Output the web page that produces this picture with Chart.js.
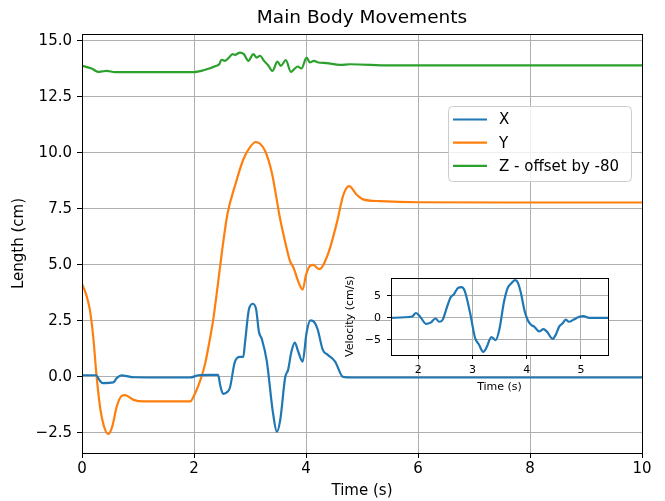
<!DOCTYPE html>
<html>
<head>
<meta charset="utf-8">
<script src="https://cdn.jsdelivr.net/npm/chart.js@4.4.1/dist/chart.umd.min.js"></script>
<style>
  html, body { margin: 0; padding: 0; background: #fff; }
  #wrap { position: relative; width: 665px; height: 501px; }
  #main { position: absolute; left: 0; top: 0; width: 665px; height: 501px; }
  #inset { position: absolute; left: 330px; top: 265px; width: 290px; height: 130px; }
</style>
</head>
<body>
<div id="wrap">
  <canvas id="main" width="665" height="501"></canvas>
  <canvas id="inset" width="290" height="130"></canvas>
</div>
<script>
// Main Body Movements – posição X/Y/Z + velocidade (inset)

// X (cm)
const tempoX = [0, 0.25, 0.32, 0.37, 0.56, 0.62, 0.71, 0.80, 0.92, 1.5, 1.93, 2.08, 2.30, 2.43, 2.47, 2.52, 2.58, 2.64, 2.73, 2.82, 2.88, 2.91, 2.98, 3.05, 3.11, 3.16, 3.21, 3.30, 3.41, 3.48, 3.54, 3.63, 3.68, 3.74, 3.80, 3.86, 3.94, 4.01, 4.08, 4.16, 4.21, 4.30, 4.39, 4.52, 4.66, 4.84, 6, 10];
const valoresX = [0.07, 0.07, -0.18, -0.28, -0.25, -0.06, 0.06, 0.03, -0.02, -0.03, -0.03, 0.07, 0.09, 0.09, -0.4, -0.76, -0.7, -0.5, 0.67, 0.89, 0.89, 1.5, 3.0, 3.26, 3.0, 2.0, 1.7, 0.7, -1.6, -2.45, -1.92, 0, 0.31, 1.13, 1.53, 1.13, 0.68, 1.97, 2.52, 2.4, 2.1, 1.2, 0.98, 0.68, 0.0, -0.03, -0.03, -0.03];

// Y (cm)
const tempoY = [0, 0.07, 0.14, 0.20, 0.26, 0.33, 0.41, 0.47, 0.54, 0.62, 0.71, 0.77, 0.92, 1.10, 1.50, 1.93, 2.02, 2.12, 2.20, 2.27, 2.34, 2.42, 2.50, 2.60, 2.73, 2.88, 3.00, 3.10, 3.18, 3.27, 3.39, 3.54, 3.63, 3.71, 3.78, 3.87, 3.94, 4.00, 4.07, 4.13, 4.20, 4.24, 4.40, 4.55, 4.67, 4.77, 4.90, 5.02, 5.32, 6, 8, 10];
const valoresY = [4.15, 3.7, 3.0, 1.8, 0.04, -1.48, -2.34, -2.55, -2.22, -1.33, -0.85, -0.82, -1.03, -1.10, -1.10, -1.10, -0.73, -0.1, 0.6, 1.5, 2.5, 4.0, 5.6, 7.3, 8.51, 9.70, 10.25, 10.48, 10.40, 10.08, 9.11, 7.02, 6.0, 5.2, 4.85, 4.2, 3.89, 4.55, 4.95, 5.0, 4.85, 4.81, 5.53, 6.87, 8.14, 8.51, 8.14, 7.92, 7.84, 7.79, 7.78, 7.78];

// Z - offset by -80 (cm)
const tempoZ = [0, 0.17, 0.29, 0.36, 0.44, 0.59, 1.0, 1.99, 2.17, 2.40, 2.45, 2.49, 2.55, 2.61, 2.69, 2.73, 2.82, 2.89, 2.97, 3.06, 3.12, 3.18, 3.25, 3.33, 3.40, 3.49, 3.55, 3.64, 3.73, 3.80, 3.85, 3.92, 4.01, 4.07, 4.14, 4.22, 4.37, 4.61, 4.79, 5.5, 10];
const valoresZ = [13.88, 13.76, 13.61, 13.63, 13.65, 13.60, 13.60, 13.60, 13.68, 13.88, 13.95, 14.15, 14.10, 14.21, 14.40, 14.37, 14.47, 14.40, 14.10, 14.40, 14.25, 14.33, 14.10, 13.88, 13.65, 14.07, 13.88, 14.13, 13.61, 13.76, 13.85, 13.76, 14.25, 14.03, 14.10, 14.03, 14.00, 13.92, 13.95, 13.9, 13.9];

// Velocidade (cm/s), só no inset
const tempoVel = [1.5, 1.89, 1.96, 2.04, 2.15, 2.23, 2.32, 2.39, 2.45, 2.53, 2.60, 2.66, 2.74, 2.80, 2.86, 2.96, 3.05, 3.12, 3.20, 3.26, 3.35, 3.43, 3.50, 3.58, 3.65, 3.71, 3.79, 3.84, 3.90, 3.96, 4.02, 4.08, 4.14, 4.23, 4.31, 4.37, 4.48, 4.54, 4.60, 4.66, 4.72, 4.78, 4.87, 4.96, 5.05, 5.15, 5.5];
const valoresVel = [0, 0.3, 1.1, 0.2, -1.4, -1.1, -0.15, -0.9, -0.5, 2.4, 4.7, 5.4, 6.9, 7.0, 6.1, 1.0, -4.6, -6.1, -7.8, -6.8, -4.4, -5.1, -2.5, 3.5, 6.8, 7.8, 8.6, 8.0, 5.4, 1.7, -0.5, -1.6, -2.0, -3.1, -2.6, -3.1, -4.8, -3.8, -2.0, -1.3, -0.4, -0.9, -0.4, 0.2, 0.4, 0, 0];

// ticks
const ticksTempo = [0, 2, 4, 6, 8, 10];
const ticksComprimento = [-2.5, 0, 2.5, 5, 7.5, 10, 12.5, 15];
const ticksTempoInset = [2, 3, 4, 5];
const ticksVel = [-5, 0, 5];

const AZUL = "#1f77b4";
const LARANJA = "#ff7f0e";
const VERDE = "#2ca02c";

Chart.defaults.font.family = "'DejaVu Sans', sans-serif";
Chart.defaults.color = "#000";

function pares(t, v) {
  return t.map((x, i) => ({ x, y: v[i] }));
}

function fixarTicks(lista) {
  return scale => { scale.ticks = lista.map(value => ({ value })); };
}

function menos(txt) {
  return String(txt).replace("-", "\u2212");
}

function serie(label, t, v, cor) {
  return {
    label,
    data: pares(t, v),
    borderColor: cor,
    backgroundColor: cor,
    borderWidth: 2.2,
    pointRadius: 0,
    cubicInterpolationMode: "monotone",
    fill: false,
  };
}

function grelha(tamanho) {
  return { color: "#b0b0b0", lineWidth: 1, tickColor: "#000", tickLength: tamanho, drawTicks: true };
}

// moldura preta à volta da área (os 4 "spines")
function desenharMoldura(chart) {
  const { ctx, chartArea: a } = chart;
  ctx.save();
  ctx.strokeStyle = "#000";
  ctx.lineWidth = 1;
  ctx.strokeRect(Math.round(a.left) + 0.5, Math.round(a.top) + 0.5,
    Math.round(a.right - a.left), Math.round(a.bottom - a.top));
  ctx.restore();
}

const pluginPrincipal = {
  id: "principal",
  beforeDraw(chart) {
    const ctx = chart.ctx;
    ctx.save();
    ctx.fillStyle = "#fff";
    ctx.fillRect(0, 0, chart.width, chart.height);
    ctx.restore();
  },
  afterDatasetsDraw(chart) {
    desenharMoldura(chart);
    const { ctx, chartArea: a } = chart;

    // título
    ctx.save();
    ctx.fillStyle = "#000";
    ctx.font = "18.5px 'DejaVu Sans'";
    ctx.textAlign = "center";
    ctx.textBaseline = "middle";
    ctx.fillText("Main Body Movements", (a.left + a.right) / 2, 18);

    // legenda
    const x0 = a.right - 194, y0 = a.top + 72, w = 183, h = 75;
    ctx.beginPath();
    ctx.roundRect(x0 + 0.5, y0 + 0.5, w, h, 4);
    ctx.fillStyle = "rgba(255,255,255,0.8)";
    ctx.fill();
    ctx.strokeStyle = "#cccccc";
    ctx.lineWidth = 1;
    ctx.stroke();

    ctx.font = "15px 'DejaVu Sans'";
    ctx.textAlign = "left";
    chart.data.datasets.forEach((ds, i) => {
      const yy = y0 + 13.5 + i * 23.2;
      ctx.strokeStyle = ds.borderColor;
      ctx.lineWidth = 2.2;
      ctx.beginPath();
      ctx.moveTo(x0 + 5, yy);
      ctx.lineTo(x0 + 39, yy);
      ctx.stroke();
      ctx.fillStyle = "#000";
      ctx.fillText(ds.label, x0 + 51, yy + 1);
    });
    ctx.restore();
  },
};

new Chart(document.getElementById("main"), {
  type: "line",
  data: {
    datasets: [
      serie("X", tempoX, valoresX, AZUL),
      serie("Y", tempoY, valoresY, LARANJA),
      serie("Z - offset by -80", tempoZ, valoresZ, VERDE),
    ],
  },
  options: {
    responsive: false,
    devicePixelRatio: 1,
    animation: false,
    layout: { padding: { top: 34, right: 23, left: 0, bottom: 0 } },
    plugins: { legend: { display: false }, title: { display: false }, tooltip: { enabled: false } },
    scales: {
      x: {
        type: "linear",
        min: 0,
        max: 10,
        afterBuildTicks: fixarTicks(ticksTempo),
        afterFit: s => { s.height = 48; },
        grid: grelha(5),
        border: { display: false },
        ticks: { font: { size: 15 }, padding: 2, maxRotation: 0, autoSkip: false },
        title: { display: true, text: "Time (s)", font: { size: 15 }, padding: { top: 0, bottom: 1 } },
      },
      y: {
        type: "linear",
        min: -3.4,
        max: 15.3,
        afterBuildTicks: fixarTicks(ticksComprimento),
        afterFit: s => { s.width = 82; },
        grid: grelha(5),
        border: { display: false },
        ticks: { font: { size: 15 }, padding: 5, autoSkip: false, callback: v => menos(v.toFixed(1)) },
        title: { display: true, text: "Length (cm)", font: { size: 15 }, padding: { top: 10, bottom: 0 } },
      },
    },
  },
  plugins: [pluginPrincipal],
});

// inset: velocidade
const pluginInset = {
  id: "inset",
  beforeDraw(chart) {
    const { ctx, chartArea: a } = chart;
    ctx.save();
    ctx.fillStyle = "#fff";
    ctx.fillRect(a.left, a.top, a.right - a.left, a.bottom - a.top);
    ctx.restore();
  },
  afterDatasetsDraw(chart) {
    desenharMoldura(chart);
  },
};

new Chart(document.getElementById("inset"), {
  type: "line",
  data: {
    datasets: [serie("Velocity", tempoVel, valoresVel, AZUL)],
  },
  options: {
    responsive: false,
    devicePixelRatio: 1,
    animation: false,
    layout: { padding: { top: 9, right: 12, left: 0, bottom: 0 } },
    plugins: { legend: { display: false }, title: { display: false }, tooltip: { enabled: false } },
    scales: {
      x: {
        type: "linear",
        min: 1.5,
        max: 5.5,
        afterBuildTicks: fixarTicks(ticksTempoInset),
        afterFit: s => { s.height = 40; },
        grid: grelha(4),
        border: { display: false },
        ticks: { font: { size: 11 }, padding: 5, maxRotation: 0, autoSkip: false },
        title: { display: true, text: "Time (s)", font: { size: 11 }, padding: { top: 0, bottom: 1 } },
      },
      y: {
        type: "linear",
        min: -8.5,
        max: 9.2,
        afterBuildTicks: fixarTicks(ticksVel),
        afterFit: s => { s.width = 61; },
        grid: grelha(4),
        border: { display: false },
        ticks: { font: { size: 11 }, padding: 6, autoSkip: false, callback: v => menos(v) },
        title: { display: true, text: "Velocity (cm/s)", font: { size: 11 }, padding: { top: 14, bottom: 0 } },
      },
    },
  },
  plugins: [pluginInset],
});
</script>
</body>
</html>
